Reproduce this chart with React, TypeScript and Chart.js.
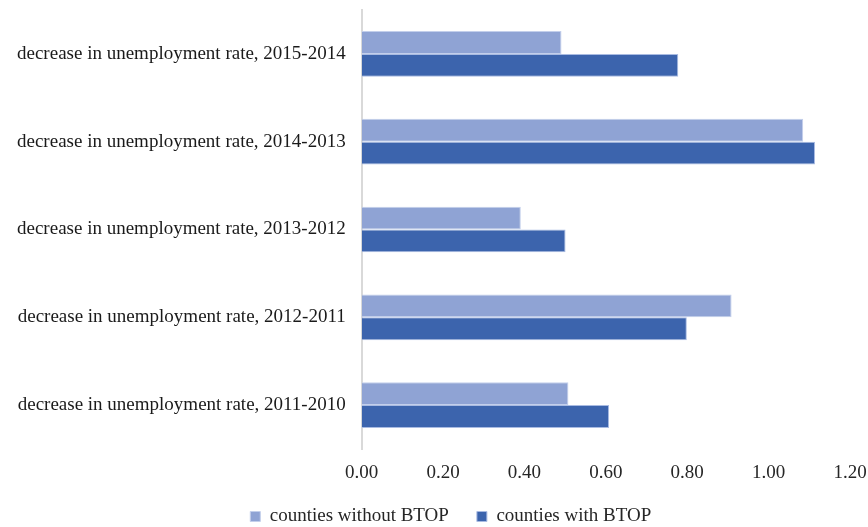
import React, { useEffect, useRef } from "react";
import { Chart, registerables } from "chart.js";

Chart.register(...registerables);

const categories = [
  "decrease in unemployment rate, 2015-2014",
  "decrease in unemployment rate, 2014-2013",
  "decrease in unemployment rate, 2013-2012",
  "decrease in unemployment rate, 2012-2011",
  "decrease in unemployment rate, 2011-2010",
];
const withoutBTOP = [0.491, 1.085, 0.391, 0.909, 0.508];
const withBTOP = [0.778, 1.114, 0.501, 0.799, 0.608];
const seriesNames = ["counties without BTOP", "counties with BTOP"];
const xTickStep = 0.2;
const xMax = 1.2;

const FONT = "'Liberation Serif', 'Times New Roman', serif";

const legendShift = {
  id: "legendShift",
  afterLayout(chart: any) {
    if (chart.legend) chart.legend.left += 50.5;
  },
};

export default function App() {
  const ref = useRef<HTMLCanvasElement | null>(null);
  useEffect(() => {
    document.body.style.margin = "0";
    const ctx = ref.current;
    if (!ctx) return;
    const chart = new Chart(ctx, {
      type: "bar",
      data: {
        labels: categories,
        datasets: [
          {
            label: seriesNames[0],
            data: withoutBTOP,
            backgroundColor: "#8FA3D4",
            borderColor: "#c3cfeb",
            borderWidth: 1,
            categoryPercentage: 0.52,
            barPercentage: 1,
          },
          {
            label: seriesNames[1],
            data: withBTOP,
            backgroundColor: "#3C64AD",
            borderColor: "#a9bbe2",
            borderWidth: 1,
            categoryPercentage: 0.52,
            barPercentage: 1,
          },
        ],
      },
      plugins: [legendShift],
      options: {
        indexAxis: "y",
        animation: false,
        responsive: false,
        layout: { padding: { top: 10, left: 1, right: 18, bottom: -9 } },
        plugins: {
          tooltip: { enabled: false },
          legend: {
            position: "bottom",
            labels: {
              boxWidth: 10,
              boxHeight: 10,
              color: "#262626",
              font: { family: FONT, size: 19 },
              padding: 28,
            },
          },
        },
        scales: {
          x: {
            min: 0,
            max: xMax,
            afterFit: (s: any) => {
              s.paddingLeft = 0;
              s.paddingRight = 0;
              s.height = s.height - 18.8;
            },
            ticks: {
              stepSize: xTickStep,
              color: "#262626",
              font: { family: FONT, size: 19 },
              padding: 13,
              maxRotation: 0,
              callback: (v: any) => Number(v).toFixed(2),
            },
            grid: { display: false, drawTicks: false },
            border: { display: false },
          },
          y: {
            afterFit: (s: any) => {
              s.paddingTop = 0;
              s.paddingBottom = 0;
            },
            ticks: {
              color: "#1a1a1a",
              font: { family: FONT, size: 19 },
              padding: 16,
            },
            grid: { display: false, drawTicks: false },
            border: { display: true, color: "#d9d9d9", width: 2 },
          },
        },
      },
    });
    return () => chart.destroy();
  }, []);
  return <canvas ref={ref} width={868} height={527} style={{ display: "block" }} />;
}
